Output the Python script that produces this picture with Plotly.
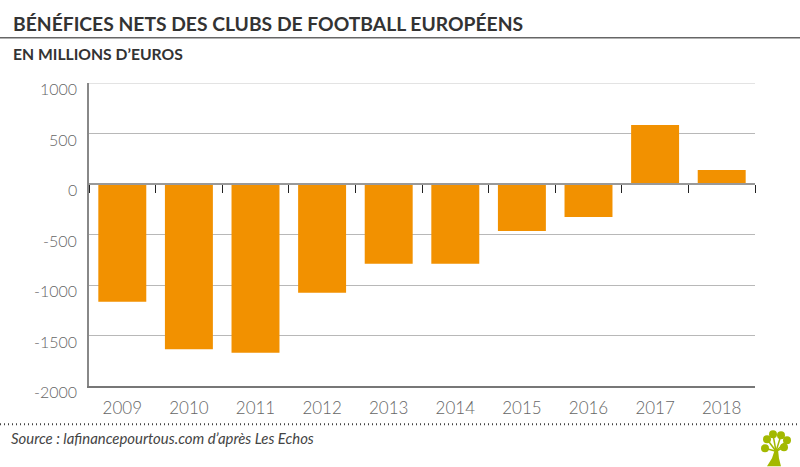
import plotly.graph_objects as go

years = ["2009", "2010", "2011", "2012", "2013", "2014", "2015", "2016", "2017", "2018"]
profits = [-1166, -1635, -1670, -1077, -790, -790, -465, -326, 583, 138]
y_ticks = [1000, 500, 0, -500, -1000, -1500, -2000]
title = "BÉNÉFICES NETS DES CLUBS DE FOOTBALL EUROPÉENS"
subtitle = "EN MILLIONS D’EUROS"
source = "Source : lafinancepourtous.com d’après Les Echos"

W, H = 800, 467
L, R, T, B = 89, 45, 82.5, 80.5
TEXT = "#333333"
TICK = "#666666"
FONT = "Lato"
LIGHT = "Lato Light, Lato"
GREEN = "#a3b900"


def px(x):
    return (x - L) / (W - L - R)


def py(y):
    return 1 - (y - T) / (H - T - B)


def text(x, y, s, size, color=TEXT, **kw):
    return dict(x=px(x), y=py(y), xref="paper", yref="paper", text=s, showarrow=False,
                xanchor="left", yanchor="middle", align="left", xshift=-2,
                font=dict(family=FONT, size=size, color=color, **kw))


leaves = [(765, 449), (767, 440), (773, 435), (781, 436), (787, 441), (784, 448)]
trunk = [(767, 467), (772, 459), (775, 450), (778, 450), (779, 459), (781, 467)]
trunk_path = "M " + " L ".join(f"{px(a):.4f},{py(b):.4f}" for a, b in trunk) + " Z"

logo = [dict(type="path", xref="paper", yref="paper", path=trunk_path, fillcolor=GREEN, line_width=0)]
for a, b in leaves:
    logo.append(dict(type="circle", xref="paper", yref="paper", x0=px(a - 4), x1=px(a + 4),
                     y0=py(b + 4), y1=py(b - 4), fillcolor=GREEN, line_width=0))
    logo.append(dict(type="line", xref="paper", yref="paper", x0=px(776), y0=py(452), x1=px(a), y1=py(b),
                     line=dict(color=GREEN, width=1.5)))

fig = go.Figure(go.Bar(x=years, y=profits, marker=dict(color="#f29100", line_width=0), width=0.72))

fig.add_trace(go.Scatter(x=years, y=[None] * len(years), xaxis="x2", showlegend=False, hoverinfo="skip"))

y_labels = [dict(x=px(79), y=v, xref="paper", yref="y", text=str(v), showarrow=False, xanchor="right",
                 yanchor="middle", yshift=-5.5, font=dict(family=LIGHT, size=16, color=TICK))
            for v in y_ticks]

fig.update_layout(
    width=W, height=H, autosize=False,
    margin=dict(l=L, r=R, t=T, b=B, pad=0),
    paper_bgcolor="white", plot_bgcolor="white", showlegend=False,
    font=dict(family=FONT, color=TICK),
    xaxis=dict(type="category", range=[-0.5, 9.5], showline=True, linecolor="#777777", linewidth=2,
               showgrid=False, ticks="", zeroline=False,
               tickfont=dict(family=LIGHT, size=17, color=TICK), ticklabelstandoff=6),
    xaxis2=dict(type="category", overlaying="x", anchor="free", position=2000 / 3000, side="bottom",
                range=[-0.5, 9.5], showline=True, linecolor="#999999", linewidth=2,
                ticks="outside", tickson="boundaries", ticklen=8, tickwidth=1, tickcolor="#222222",
                showticklabels=False, showgrid=False, zeroline=False),
    yaxis=dict(range=[-2000, 1000], tickvals=y_ticks, showticklabels=False,
               showline=True, linecolor="#888888", linewidth=2, ticks="", zeroline=False,
               showgrid=True, gridcolor="#b8b8b8", gridwidth=1),
    annotations=[
        text(13, 22.5, title, 19.3, weight=700),
        text(13, 53, subtitle, 15.7, weight=700),
        text(11, 439, f"<i>{source}</i>", 14.9, color="#444444"),
    ] + y_labels,
    shapes=[
        dict(type="line", xref="paper", yref="y", x0=0, x1=1, y0=max(y_ticks), y1=max(y_ticks),
             line=dict(color="#c8c8c8", width=1), layer="below"),
        dict(type="line", xref="paper", yref="paper", x0=px(0), x1=px(800), y0=py(37), y1=py(37),
             line=dict(color="#666666", width=1.5)),
        dict(type="line", xref="paper", yref="paper", x0=px(0), x1=px(800), y0=py(425), y1=py(425),
             line=dict(color="#444444", width=2, dash="1px,3px")),
    ] + logo,
)
fig.write_html("out.html", config=dict(displayModeBar=False),
               post_script="document.body.style.margin='0';document.body.style.overflow='hidden';")
